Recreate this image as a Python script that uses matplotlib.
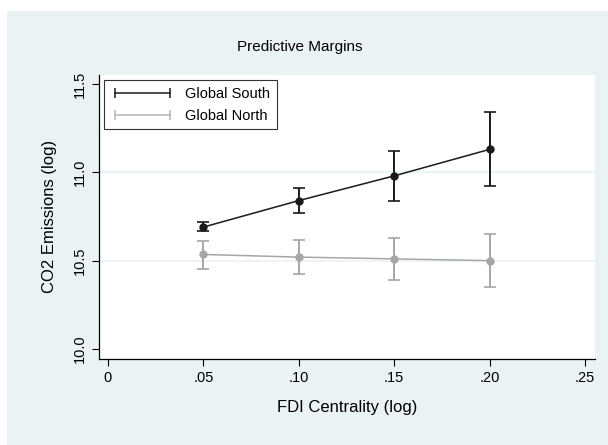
import matplotlib
matplotlib.use('Agg')
import matplotlib.pyplot as plt
from matplotlib.lines import Line2D
from matplotlib.patches import Rectangle

plt.rcParams['font.family'] = ['Liberation Sans', 'DejaVu Sans']

fdi = [0.05, 0.10, 0.15, 0.20]
south = [10.69, 10.84, 10.98, 11.13]
south_lo = [10.67, 10.77, 10.84, 10.92]
south_hi = [10.72, 10.91, 11.12, 11.34]
north = [10.535, 10.52, 10.51, 10.50]
north_lo = [10.455, 10.425, 10.39, 10.35]
north_hi = [10.61, 10.615, 10.63, 10.65]

xticks = [0, 0.05, 0.10, 0.15, 0.20, 0.25]
xlabels = ['0', '.05', '.10', '.15', '.20', '.25']
yticks = [10.0, 10.5, 11.0, 11.5]
ylabels = ['10.0', '10.5', '11.0', '11.5']

W, H = 608, 445
fig = plt.figure(figsize=(W / 100, H / 100), dpi=100)
fig.patch.set_facecolor('white')
# stata-ish background, leaves a thin white strip top and left
fig.patches.append(Rectangle((7 / W, 0), 1, 1 - 11 / H, transform=fig.transFigure,
                             facecolor='#eaf2f3', edgecolor='none', zorder=-10))

ax = fig.add_axes([99 / W, (H - 358.5) / H, (595 - 99) / W, (358.5 - 75) / H])
ax.set_facecolor('white')

for v in [10.5, 11.0]:
    ax.axhline(v, color='#eaf2f3', lw=1.2, zorder=0)

south_col = '#1a1a1a'
north_col = '#a6a6a6'
ax.errorbar(fdi, south,
            yerr=[[s - l for s, l in zip(south, south_lo)], [h - s for s, h in zip(south, south_hi)]],
            fmt='o-', color=south_col, ms=5, lw=1.1, elinewidth=1.4, capsize=4, capthick=1.2)
ax.errorbar(fdi, north,
            yerr=[[s - l for s, l in zip(north, north_lo)], [h - s for s, h in zip(north, north_hi)]],
            fmt='o-', color=north_col, ms=5, lw=1.1, elinewidth=1.4, capsize=4, capthick=1.2)

ax.set_xlim(-0.0047, 0.2552)
ax.set_ylim(9.946, 11.551)
ax.set_xticks(xticks)
ax.set_xticklabels(xlabels, fontsize=10.5)
ax.set_yticks(yticks)
ax.set_yticklabels(ylabels, fontsize=10.5, rotation=90, va='center')
ax.tick_params(direction='out', length=5, width=0.8, color='black', pad=4)
for s in ['top', 'right']:
    ax.spines[s].set_visible(False)
for s in ['left', 'bottom']:
    ax.spines[s].set_color('black')
    ax.spines[s].set_linewidth(0.9)

ax.set_xlabel('FDI Centrality (log)', fontsize=12, labelpad=11)
ax.set_ylabel('CO2 Emissions (log)', fontsize=12, labelpad=11)
fig.text(300 / W, 1 - 47 / H, 'Predictive Margins', ha='center', va='center', fontsize=11)

handles = [Line2D([0, 1], [0, 0], color=south_col, lw=1.1, marker='|', ms=7, mew=1.1),
           Line2D([0, 1], [0, 0], color='#b5b5b5', lw=1.1, marker='|', ms=7, mew=1.1)]
leg = ax.legend(handles, ['Global South', 'Global North'], loc='upper left', numpoints=2,
                fontsize=10.5, handlelength=4.4, frameon=True, fancybox=False,
                borderaxespad=0.35, borderpad=0.45, labelspacing=0.55, handletextpad=0.7)
leg.get_frame().set_edgecolor('black')
leg.get_frame().set_linewidth(0.8)

fig.savefig('out.png', dpi=100, facecolor=fig.get_facecolor())
